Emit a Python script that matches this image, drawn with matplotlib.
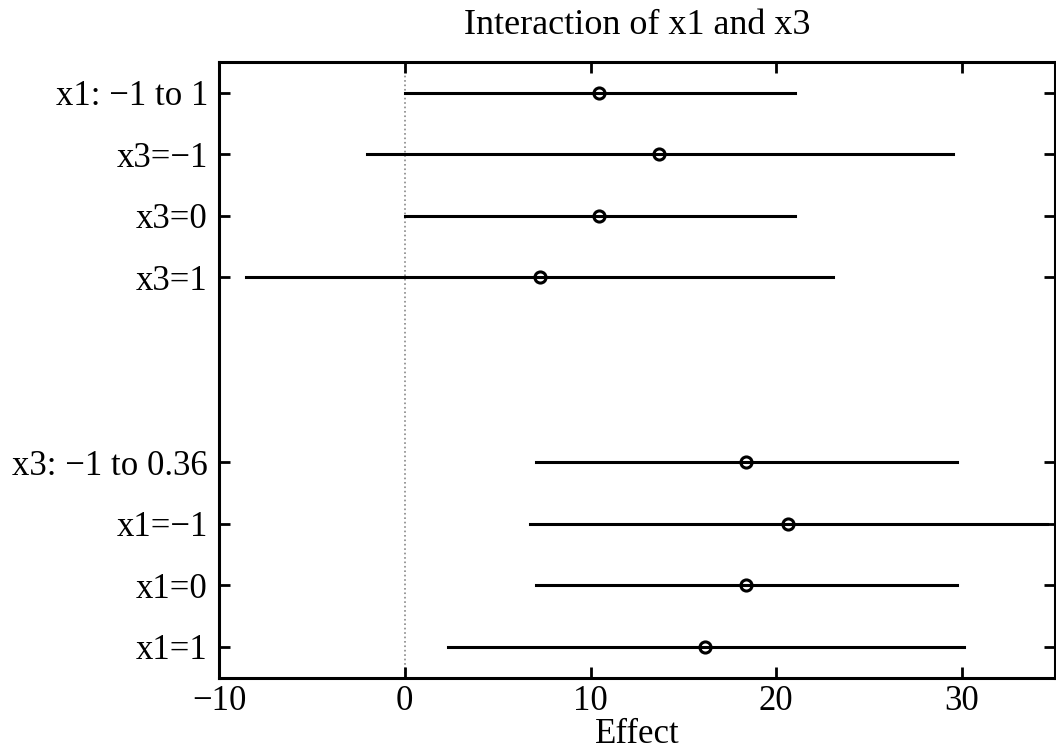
import matplotlib
matplotlib.use("Agg")
import matplotlib.pyplot as plt
import numpy as np

labels = ["x1: \u22121 to 1", "x3=\u22121", "x3=0", "x3=1",
          "x3: \u22121 to 0.36", "x1=\u22121", "x1=0", "x1=1"]
positions = [1, 2, 3, 4, 7, 8, 9, 10]
effect = [10.48, 13.70, 10.48, 7.26, 18.39, 20.63, 18.39, 16.18]
lower = [0.0, -2.06, 0.0, -8.53, 7.08, 6.72, 7.08, 2.33]
upper = [21.02, 29.50, 21.02, 23.06, 29.73, 34.55, 29.73, 30.09]

plt.rcParams['font.family'] = ['Liberation Serif', 'DejaVu Serif']

fig = plt.figure(figsize=(10.56, 7.55), dpi=100)
ax = fig.add_axes([0.2074, 0.1024, 0.7916, 0.8156])

ax.axvline(0, color='#888888', linestyle=':', linewidth=1.2, zorder=1)
for p, e, lo, hi in zip(positions, effect, lower, upper):
    ax.plot([lo, hi], [p, p], color='black', linewidth=2.2, zorder=2)
ax.plot(effect, positions, linestyle='none', marker='o', markersize=8,
        markerfacecolor='none', markeredgecolor='black', markeredgewidth=2.2, zorder=3)

ax.set_xlim(-10, 35)
ax.set_ylim(10.5, 0.5)
ax.set_xticks([-10, 0, 10, 20, 30])
ax.set_xticklabels(["\u221210", "0", "10", "20", "30"])
ax.set_yticks(positions)
ax.set_yticklabels(labels)
ax.tick_params(axis='both', direction='in', length=8, width=2, labelsize=25,
               top=True, right=True, colors='black')
ax.tick_params(axis='x', pad=5)
ax.tick_params(axis='y', pad=8)
for s in ax.spines.values():
    s.set_linewidth(2.2)
ax.set_xlabel("Effect", fontsize=25, labelpad=0)
ax.set_title("Interaction of x1 and x3", fontsize=26, pad=20)

fig.savefig("out.png", dpi=100)
